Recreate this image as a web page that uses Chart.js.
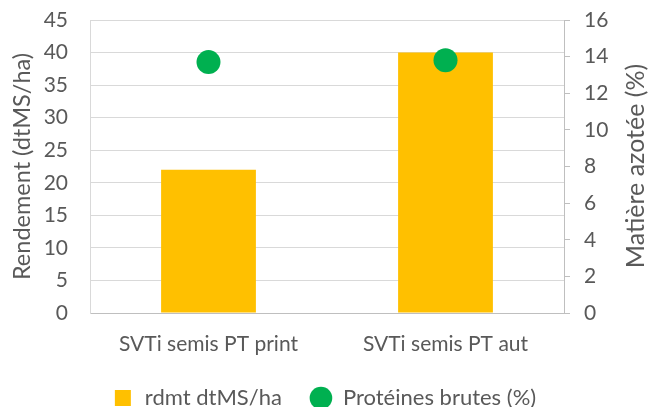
<!DOCTYPE html>
<html>
<head>
<meta charset="utf-8">
<script src="https://cdn.jsdelivr.net/npm/chart.js@4.4.0/dist/chart.umd.min.js"></script>
<style>
  html, body { margin: 0; padding: 0; background: #fff; }
  #wrap { width: 648px; height: 407px; }
</style>
</head>
<body>
<div id="wrap"><canvas id="chart"></canvas></div>
<script>
var categories = ["SVTi semis PT print", "SVTi semis PT aut"];
var rendement = [22, 40];
var proteines = [13.7, 13.8];
var leftTicks = [0, 5, 10, 15, 20, 25, 30, 35, 40, 45];
var rightTicks = [0, 2, 4, 6, 8, 10, 12, 14, 16];

var textColor = "#595959";
var fontFamily = "Lato, 'Open Sans', sans-serif";

// right axis title reads bottom-to-top like Excel, so draw it ourselves
var extras = {
  id: "extras",
  afterLayout: function (chart) {
    // push the legend down to the bottom edge
    var l = chart.legend;
    l.top = 398 - 28 - 11;
    l.bottom = 407;
    l.height = l.bottom - l.top;
  },
  afterDraw: function (chart) {
    var ctx = chart.ctx;
    ctx.save();
    ctx.translate(636, 166);
    ctx.rotate(-Math.PI / 2);
    ctx.fillStyle = textColor;
    ctx.font = "25px " + fontFamily;
    ctx.textAlign = "center";
    ctx.textBaseline = "middle";
    ctx.fillText("Matière azotée (%)", 0, 0);
    ctx.restore();
  }
};

function noPad(s) {
  s.paddingTop = 0;
  s.paddingBottom = 0;
}

new Chart(document.getElementById("chart"), {
  type: "bar",
  data: {
    labels: categories,
    datasets: [
      {
        label: "rdmt dtMS/ha",
        data: rendement,
        backgroundColor: "#FFC000",
        yAxisID: "y",
        barPercentage: 0.4,
        categoryPercentage: 1,
        pointStyle: "rect",
        order: 1
      },
      {
        type: "line",
        label: "Protéines brutes (%)",
        data: proteines,
        yAxisID: "y1",
        showLine: false,
        pointRadius: 12,
        pointHoverRadius: 12,
        pointBackgroundColor: "#00B050",
        pointBorderWidth: 0,
        backgroundColor: "#00B050",
        borderColor: "#00B050",
        pointStyle: "circle",
        order: 0
      }
    ]
  },
  options: {
    responsive: true,
    maintainAspectRatio: false,
    animation: false,
    layout: { padding: { top: 20, bottom: 0, left: 0, right: 0 } },
    plugins: {
      tooltip: { enabled: false },
      legend: {
        position: "bottom",
        maxHeight: 40,
        labels: {
          usePointStyle: true,
          boxHeight: 16,
          color: textColor,
          font: { size: 22, family: fontFamily },
          padding: 28,
          sort: function (a, b) { return a.datasetIndex - b.datasetIndex; }
        }
      }
    },
    scales: {
      x: {
        grid: { display: false, drawTicks: false },
        border: { display: true, color: "#bfbfbf" },
        ticks: { color: textColor, font: { size: 21, family: fontFamily }, padding: 19 },
        afterFit: function (s) {
          var lh = (s.chart.legend && s.chart.legend.height) || 0;
          s.height = Math.max(407 - 313 - lh, 0);
        }
      },
      y: {
        position: "left",
        min: 0,
        max: 45,
        afterBuildTicks: function (s) { s.ticks = leftTicks.map(function (v) { return { value: v }; }); },
        grid: { color: "#d9d9d9", drawTicks: false },
        border: { display: true, color: "#d9d9d9" },
        ticks: { color: textColor, font: { size: 21, family: fontFamily }, padding: 22 },
        title: {
          display: true,
          text: "Rendement (dtMS/ha)",
          color: textColor,
          font: { size: 23.5, family: fontFamily },
          padding: { top: 8, bottom: 0 }
        },
        afterFit: function (s) { s.width = 90; noPad(s); }
      },
      y1: {
        position: "right",
        min: 0,
        max: 16,
        afterBuildTicks: function (s) { s.ticks = rightTicks.map(function (v) { return { value: v }; }); },
        grid: { drawOnChartArea: false, color: "#bfbfbf", tickLength: 6 },
        border: { display: true, color: "#bfbfbf" },
        ticks: { color: textColor, font: { size: 21, family: fontFamily }, padding: 14 },
        afterFit: function (s) { s.width = 84; noPad(s); }
      }
    }
  },
  plugins: [extras]
});
</script>
</body>
</html>
